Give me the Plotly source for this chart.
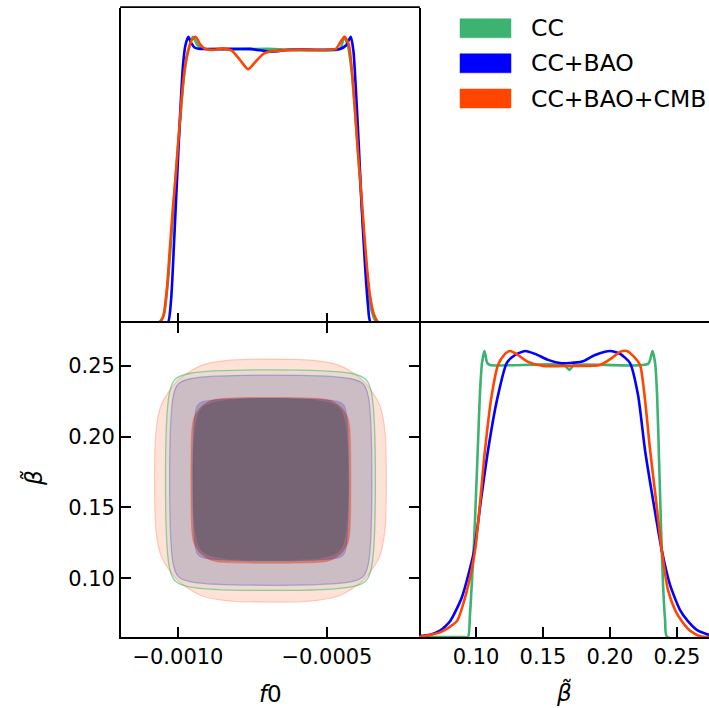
import plotly.graph_objects as go

# ---------------- data ----------------
series_names = ["CC", "CC+BAO", "CC+BAO+CMB"]
series_colors = ["#3CB371", "#0000FF", "#FF4500"]

f0_ticks = [-0.0010, -0.0005]
f0_ticklabels = ["\u22120.0010", "\u22120.0005"]
beta_ticks = [0.10, 0.15, 0.20, 0.25]
beta_ticklabels = ["0.10", "0.15", "0.20", "0.25"]

# 1D marginal of f0 (normalised to peak = 1)
f0_cc_x = [-1.191e-3, -1.064e-3, -1.047e-3, -1.034e-3, -1.020e-3, -1.007e-3, -0.993e-3, -0.980e-3,
           -0.966e-3, -0.950e-3, -0.933e-3, -0.909e-3, -0.700e-3, -0.456e-3, -0.443e-3, -0.430e-3,
           -0.416e-3, -0.403e-3, -0.389e-3, -0.376e-3, -0.362e-3, -0.349e-3, -0.332e-3, -0.191e-3]
f0_cc_y = [0.0, 0.0, 0.03, 0.14, 0.33, 0.52, 0.70, 0.86,
           0.95, 1.0, 0.97, 0.958, 0.958, 0.958, 1.0, 0.97,
           0.87, 0.70, 0.50, 0.30, 0.13, 0.04, 0.0, 0.0]

f0_bao_x = [-1.191e-3, -1.060e-3, -1.034e-3, -1.023e-3, -1.013e-3, -1.003e-3, -0.993e-3, -0.983e-3,
            -0.975e-3, -0.965e-3, -0.956e-3, -0.943e-3, -0.926e-3, -0.758e-3, -0.691e-3, -0.624e-3,
            -0.456e-3, -0.436e-3, -0.420e-3, -0.411e-3, -0.403e-3, -0.393e-3, -0.383e-3, -0.372e-3,
            -0.362e-3, -0.352e-3, -0.191e-3]
f0_bao_y = [0.0, 0.0, 0.0, 0.08, 0.28, 0.50, 0.72, 0.90,
            0.97, 1.0, 0.98, 0.962, 0.958, 0.958, 0.948, 0.955,
            0.958, 0.97, 1.0, 0.95, 0.82, 0.62, 0.40, 0.20,
            0.06, 0.0, 0.0]

f0_cmb_x = [-1.191e-3, -1.067e-3, -1.050e-3, -1.037e-3, -1.027e-3, -1.017e-3, -1.007e-3, -0.997e-3,
            -0.987e-3, -0.977e-3, -0.966e-3, -0.953e-3, -0.940e-3, -0.926e-3, -0.909e-3, -0.876e-3,
            -0.849e-3, -0.819e-3, -0.792e-3, -0.764e-3, -0.738e-3, -0.711e-3, -0.685e-3, -0.591e-3,
            -0.470e-3, -0.453e-3, -0.440e-3, -0.426e-3, -0.416e-3, -0.406e-3, -0.396e-3, -0.386e-3,
            -0.376e-3, -0.366e-3, -0.356e-3, -0.342e-3, -0.325e-3, -0.191e-3]
f0_cmb_y = [0.0, 0.0, 0.02, 0.12, 0.26, 0.40, 0.52, 0.66,
            0.79, 0.89, 0.95, 0.99, 1.0, 0.975, 0.958, 0.955,
            0.96, 0.952, 0.92, 0.887, 0.915, 0.942, 0.95, 0.955,
            0.958, 0.985, 1.0, 0.97, 0.88, 0.75, 0.60, 0.47,
            0.33, 0.20, 0.10, 0.03, 0.0, 0.0]

# 1D marginal of beta tilde (normalised to peak = 1)
beta_cc_x = [0.0574, 0.0900, 0.0940, 0.0955, 0.0970, 0.0985, 0.1000, 0.1015, 0.1030, 0.1045,
             0.1063, 0.1082, 0.1105, 0.1657, 0.1697, 0.1732, 0.2285, 0.2318, 0.2337, 0.2352,
             0.2367, 0.2382, 0.2397, 0.2412, 0.2427, 0.2741]
beta_cc_y = [0.0, 0.0, 0.0, 0.08, 0.20, 0.33, 0.50, 0.68, 0.86, 0.96,
             1.0, 0.96, 0.951, 0.951, 0.934, 0.951, 0.955, 1.0, 0.96, 0.85,
             0.62, 0.38, 0.18, 0.06, 0.0, 0.0]

beta_bao_x = [0.0574, 0.0656, 0.0731, 0.0806, 0.0895, 0.0985, 0.1037, 0.1090, 0.1157, 0.1229,
              0.1291, 0.1366, 0.1441, 0.1538, 0.1627, 0.1702, 0.1792, 0.1889, 0.2001, 0.2076,
              0.2150, 0.2210, 0.2262, 0.2322, 0.2387, 0.2449, 0.2524, 0.2584, 0.2658, 0.2741]
beta_bao_y = [0.003, 0.008, 0.022, 0.055, 0.14, 0.30, 0.48, 0.654, 0.83, 0.958,
              0.986, 1.0, 0.99, 0.969, 0.958, 0.958, 0.963, 0.986, 1.0, 0.99,
              0.958, 0.846, 0.654, 0.479, 0.304, 0.182, 0.094, 0.055, 0.022, 0.007]

beta_cmb_x = [0.0574, 0.0619, 0.0731, 0.0856, 0.0925, 0.0993, 0.1067, 0.1112, 0.1164, 0.1209,
              0.1254, 0.1314, 0.1388, 0.1500, 0.1702, 0.1926, 0.2016, 0.2076, 0.2126, 0.2173,
              0.2225, 0.2262, 0.2300, 0.2344, 0.2387, 0.2434, 0.2487, 0.2537, 0.2599, 0.2674,
              0.2741]
beta_cmb_y = [0.0, 0.004, 0.016, 0.055, 0.15, 0.304, 0.654, 0.83, 0.951, 0.986,
              1.0, 0.986, 0.962, 0.948, 0.948, 0.951, 0.976, 0.997, 1.0, 0.983,
              0.951, 0.83, 0.654, 0.479, 0.304, 0.164, 0.094, 0.055, 0.022, 0.003,
              0.0]

# 2D contours (f0, beta tilde): outer = 95%, inner = 68%
cc_outer_x = [-0.962e-3, -0.417e-3, -0.3696e-3, -0.350e-3, -0.350e-3, -0.3696e-3, -0.417e-3, -0.962e-3,
              -1.0094e-3, -1.029e-3, -1.029e-3, -1.0094e-3, -0.962e-3]
cc_outer_y = [0.2444, 0.2444, 0.2403, 0.2303, 0.1082, 0.0982, 0.0941, 0.0941,
              0.0982, 0.1082, 0.2303, 0.2403, 0.2444]
cc_inner_x = [-0.866e-3, -0.512e-3, -0.459e-3, -0.438e-3, -0.438e-3, -0.459e-3, -0.512e-3, -0.866e-3,
              -0.919e-3, -0.940e-3, -0.940e-3, -0.919e-3, -0.866e-3]
cc_inner_y = [0.2249, 0.2249, 0.2204, 0.2094, 0.1301, 0.1191, 0.1146, 0.1146,
              0.1191, 0.1301, 0.2094, 0.2204, 0.2249]

bao_outer_x = [-0.956e-3, -0.421e-3, -0.3786e-3, -0.361e-3, -0.361e-3, -0.3786e-3, -0.421e-3, -0.956e-3,
               -0.9984e-3, -1.016e-3, -1.016e-3, -0.9984e-3, -0.956e-3]
bao_outer_y = [0.2408, 0.2408, 0.2371, 0.2281, 0.1103, 0.1013, 0.0976, 0.0976,
               0.1013, 0.1103, 0.2281, 0.2371, 0.2408]
bao_inner_x = [-0.907e-3, -0.470e-3, -0.446e-3, -0.436e-3, -0.436e-3, -0.446e-3, -0.470e-3, -0.907e-3,
               -0.931e-3, -0.941e-3, -0.941e-3, -0.931e-3, -0.907e-3]
bao_inner_y = [0.2251, 0.2251, 0.2230, 0.2181, 0.1211, 0.1162, 0.1141, 0.1141,
               0.1162, 0.1211, 0.2181, 0.2230, 0.2251]

cmb_outer_x = [-0.8324e-3, -0.5466e-3, -0.4541e-3, -0.3758e-3, -0.3234e-3, -0.305e-3, -0.305e-3,
               -0.3234e-3, -0.3758e-3, -0.4541e-3, -0.5466e-3, -0.8324e-3, -0.9249e-3, -1.0032e-3,
               -1.0556e-3, -1.074e-3, -1.074e-3, -1.0556e-3, -1.0032e-3, -0.9249e-3, -0.8324e-3]
cmb_outer_y = [0.2537, 0.2537, 0.2498, 0.2389, 0.2224, 0.2030, 0.1349,
               0.1155, 0.0991, 0.0881, 0.0842, 0.0842, 0.0881, 0.0991,
               0.1155, 0.1349, 0.2030, 0.2224, 0.2389, 0.2498, 0.2537]
cmb_inner_x = [-0.8523e-3, -0.5237e-3, -0.4852e-3, -0.4525e-3, -0.4307e-3, -0.423e-3, -0.423e-3,
               -0.4307e-3, -0.4525e-3, -0.4852e-3, -0.5237e-3, -0.8523e-3, -0.8908e-3, -0.9235e-3,
               -0.9453e-3, -0.953e-3, -0.953e-3, -0.9453e-3, -0.9235e-3, -0.8908e-3, -0.8523e-3]
cmb_inner_y = [0.2268, 0.2268, 0.2252, 0.2206, 0.2138, 0.2057, 0.1324,
               0.1243, 0.1175, 0.1129, 0.1113, 0.1113, 0.1129, 0.1175,
               0.1243, 0.1324, 0.2057, 0.2138, 0.2206, 0.2252, 0.2268]

f0_range = [-1.191e-3, -0.191e-3]
beta_range_y = [0.0587, 0.280]
beta_range_x = [0.0574, 0.274]

# ---------------- figure ----------------
W, H = 709, 708
FONT = "DejaVu Sans"
fig = go.Figure()

def px_x(p):
    return p / W

def px_y(p):
    return (H - p) / H

# top-left: f0 marginal
for xs, ys, c in [(f0_cc_x, f0_cc_y, series_colors[0]),
                  (f0_bao_x, f0_bao_y, series_colors[1]),
                  (f0_cmb_x, f0_cmb_y, series_colors[2])]:
    fig.add_trace(go.Scatter(x=xs, y=ys, mode="lines", xaxis="x", yaxis="y",
                             line=dict(color=c, width=2.6, shape="spline", smoothing=0.6),
                             showlegend=False, hoverinfo="skip"))

# bottom-right: beta marginal
for xs, ys, c in [(beta_cc_x, beta_cc_y, series_colors[0]),
                  (beta_bao_x, beta_bao_y, series_colors[1]),
                  (beta_cmb_x, beta_cmb_y, series_colors[2])]:
    fig.add_trace(go.Scatter(x=xs, y=ys, mode="lines", xaxis="x3", yaxis="y3",
                             line=dict(color=c, width=2.6, shape="spline", smoothing=0.6),
                             showlegend=False, hoverinfo="skip"))

# 2D contours, layered
contours = [
    (cmb_outer_x, cmb_outer_y, "rgba(255,69,0,0.155)", "rgba(255,120,80,0.35)", 1.2, 0.8),
    (cc_outer_x, cc_outer_y, "rgba(60,179,113,0.10)", "rgba(60,179,113,0.55)", 1.3, 1.0),
    (bao_outer_x, bao_outer_y, "rgba(73,65,157,0.20)", "rgba(60,60,220,0.35)", 1.2, 1.0),
    (cmb_inner_x, cmb_inner_y, "rgba(200,70,50,0.50)", "rgba(255,69,0,0.30)", 1.0, 0.8),
    (cc_inner_x, cc_inner_y, "rgba(64,115,88,0.40)", "rgba(60,179,113,0.3)", 0.8, 1.0),
    (bao_inner_x, bao_inner_y, "rgba(0,0,150,0.19)", "rgba(0,0,255,0.2)", 0.8, 1.0),
]
for xs, ys, fc, lc, lw, sm in contours:
    fig.add_trace(go.Scatter(x=xs, y=ys, mode="lines", xaxis="x2", yaxis="y2",
                             fill="toself", fillcolor=fc,
                             line=dict(color=lc, width=lw, shape="spline", smoothing=sm),
                             showlegend=False, hoverinfo="skip"))

xl, xm, xr = px_x(121), px_x(419), 1.0
yb, ym, yt = px_y(637), px_y(323), px_y(8)
LW = 1.8

axis_common = dict(showgrid=False, zeroline=False, linecolor="black", linewidth=LW,
                   ticks="inside", ticklen=10, tickwidth=1.6, tickcolor="black",
                   tickfont=dict(family=FONT, size=21, color="black"))

fig.update_layout(
    width=W, height=H,
    margin=dict(l=0, r=0, t=0, b=0),
    paper_bgcolor="white", plot_bgcolor="white",
    xaxis=dict(axis_common, domain=[xl, xm], anchor="y", range=f0_range,
               tickvals=f0_ticks, showticklabels=False, showline=False),
    yaxis=dict(axis_common, domain=[ym, yt], anchor="x", range=[0, 1.101],
               ticks="", showticklabels=False, showline=True, mirror=True),
    xaxis2=dict(axis_common, domain=[xl, xm], anchor="y2", range=f0_range,
                tickvals=f0_ticks, ticktext=f0_ticklabels, showline=True, mirror="ticks"),
    yaxis2=dict(axis_common, domain=[yb, ym], anchor="x2", range=beta_range_y,
                tickvals=beta_ticks, ticktext=beta_ticklabels, showline=True, mirror="ticks"),
    xaxis3=dict(axis_common, domain=[xm, xr], anchor="y3", range=beta_range_x,
                tickvals=beta_ticks, ticktext=beta_ticklabels, showline=True, mirror=True),
    yaxis3=dict(axis_common, domain=[yb, ym], anchor="x3", range=[0, 1.098],
                ticks="", showticklabels=False, showline=False),
)

# legend drawn as colour patches + labels; top border of the upper panel
shapes = [dict(type="line", xref="paper", yref="paper", x0=xl - 0.9 / W, x1=xm + 0.9 / W,
               y0=yt + 0.9 / H, y1=yt + 0.9 / H, line=dict(color="black", width=LW))]
annotations = []
row_centers = [28.3, 63.3, 98.5]
for name, col, rc in zip(series_names, series_colors, row_centers):
    shapes.append(dict(type="rect", xref="paper", yref="paper",
                       x0=px_x(460), x1=px_x(511), y0=px_y(rc + 9.5), y1=px_y(rc - 9.5),
                       fillcolor=col, line=dict(color=col, width=0.5), layer="above"))
    annotations.append(dict(text=name, xref="paper", yref="paper", x=px_x(529), y=px_y(rc),
                            xanchor="left", yanchor="middle", showarrow=False,
                            font=dict(family=FONT, size=23.5, color="black")))

annotations.append(dict(text="<i>f</i>0", xref="paper", yref="paper", x=px_x(270), y=px_y(694),
                        xanchor="center", yanchor="middle", showarrow=False,
                        font=dict(family=FONT, size=23, color="black")))
annotations.append(dict(text="<i>\u03b2\u0303</i>", xref="paper", yref="paper", x=px_x(564), y=px_y(692),
                        xanchor="center", yanchor="middle", showarrow=False,
                        font=dict(family=FONT, size=23, color="black")))
annotations.append(dict(text="<i>\u03b2\u0303</i>", xref="paper", yref="paper", x=px_x(33), y=px_y(478),
                        xanchor="center", yanchor="middle", showarrow=False, textangle=-90,
                        font=dict(family=FONT, size=23, color="black")))

fig.update_layout(shapes=shapes, annotations=annotations)
fig.write_html("out.html", config={"displayModeBar": False},
               post_script="document.body.style.margin='0px';document.body.style.overflow='hidden';")
